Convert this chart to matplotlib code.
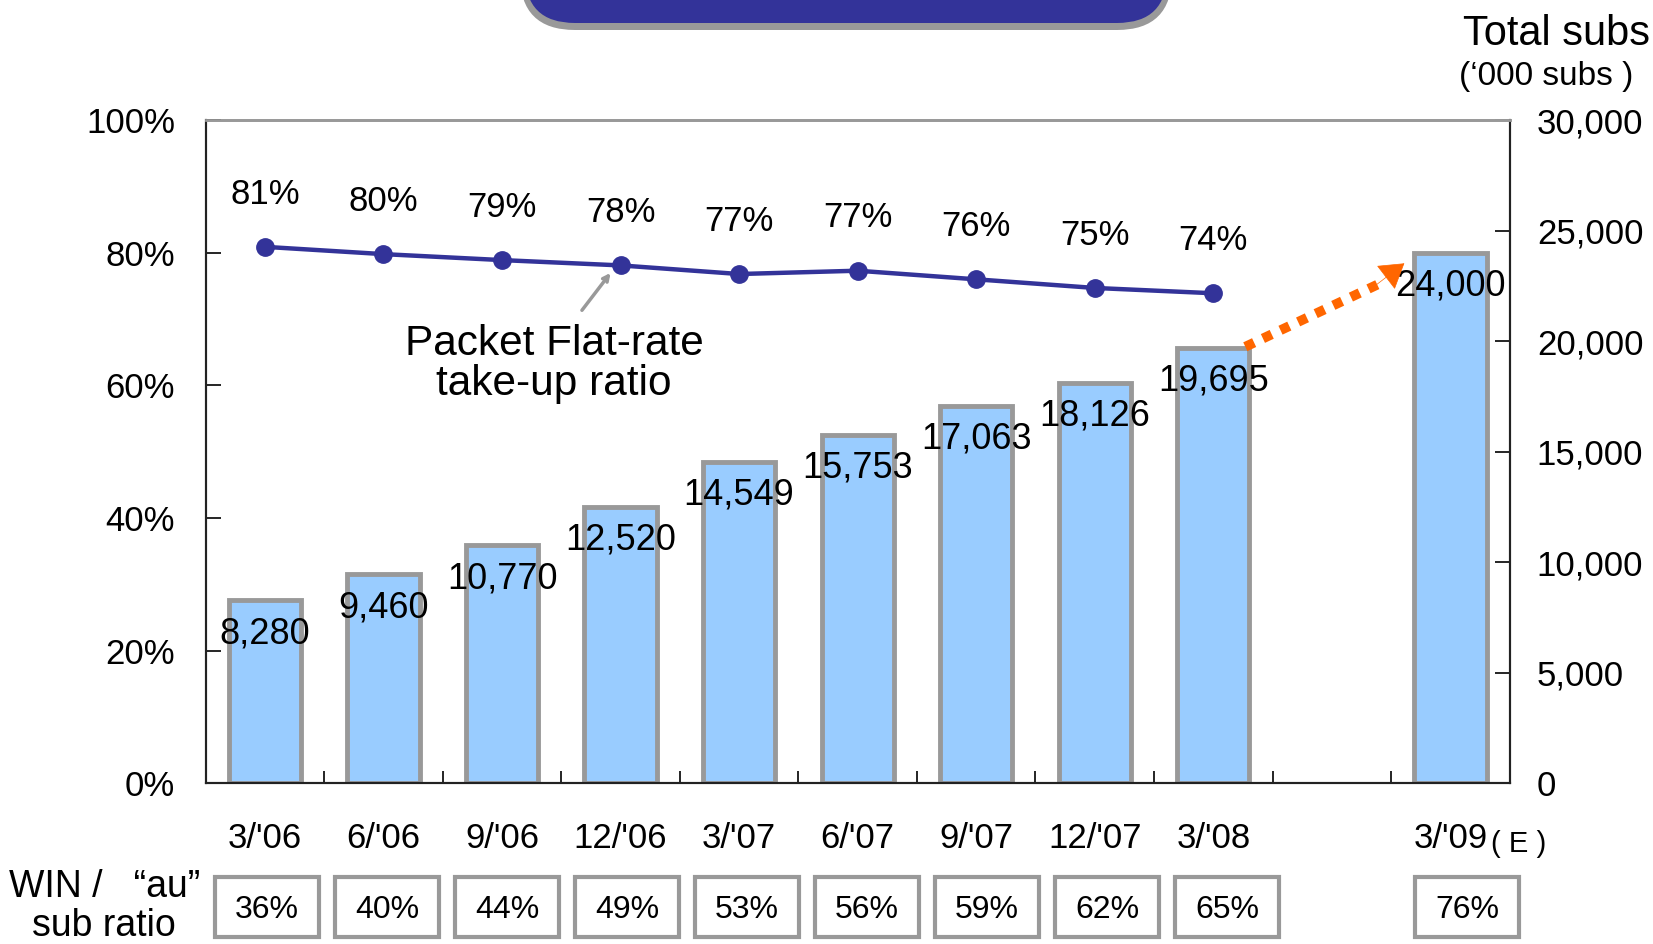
import matplotlib
matplotlib.use("Agg")
import matplotlib.pyplot as plt
from matplotlib.patches import FancyBboxPatch, Rectangle
from matplotlib.transforms import IdentityTransform, blended_transform_factory

plt.rcParams['font.family'] = ['Liberation Sans', 'DejaVu Sans']

# dados
periodos = ["3/'06", "6/'06", "9/'06", "12/'06", "3/'07", "6/'07", "9/'07", "12/'07", "3/'08", "3/'09"]
posicoes = [0, 1, 2, 3, 4, 5, 6, 7, 8, 10]
total_subs = [8280, 9460, 10770, 12520, 14549, 15753, 17063, 18126, 19695, 24000]
taxa_flat = [80.9, 79.8, 78.9, 78.1, 76.8, 77.3, 76.0, 74.7, 73.9]
win_ratio = [36, 40, 44, 49, 53, 56, 59, 62, 65, 76]

azul_linha = '#333399'
azul_barra = '#99CCFF'
cinza = '#999999'
laranja = '#FF6600'

fig = plt.figure(figsize=(16.53, 9.44), dpi=100)
ax = fig.add_axes([0.1244, 0.1702, 0.7889, 0.7025])
ax2 = ax.twinx()

# barras no eixo da direita
ax2.bar(posicoes, total_subs, width=0.61, color=azul_barra, edgecolor=cinza, linewidth=3.5, zorder=2)
ax2.set_ylim(0, 30000)
ax2.set_yticks(range(0, 30001, 5000))
ax2.set_yticklabels(['0'] + ['{:,}'.format(v) for v in range(5000, 30001, 5000)])
for x, v in zip(posicoes, total_subs):
    ax2.annotate('{:,}'.format(v), (x, v), xytext=(0, -24), textcoords='offset points',
                 ha='center', va='center', fontsize=26)

# linha da taxa
xs = posicoes[:len(taxa_flat)]
ax.plot(xs, taxa_flat, color=azul_linha, lw=3.2, marker='o', markersize=12.5, zorder=5)
for x, v in zip(xs, taxa_flat):
    ax.annotate('{:.0f}%'.format(v), (x, v), xytext=(0, 38), textcoords='offset points',
                ha='center', va='center', fontsize=25)
ax.set_zorder(ax2.get_zorder() + 1)
ax.patch.set_visible(False)

ax.set_xlim(-0.5, 10.5)
ax.set_ylim(0, 100)
ax.set_yticks(range(0, 101, 20))
ax.set_yticklabels(['{}%'.format(v) for v in range(0, 101, 20)])
ax.set_xticks(posicoes)
ax.set_xticklabels(periodos)
ax.set_xticks([i + 0.5 for i in range(10)], minor=True)
ax.tick_params(axis='x', which='major', length=0, pad=28, labelsize=25)
ax.tick_params(axis='x', which='minor', direction='in', length=9, width=1.2)
ax.tick_params(axis='y', direction='in', length=11, width=1.2, pad=22, labelsize=25)
ax2.tick_params(axis='y', direction='in', length=11, width=1.2, pad=19.5, labelsize=25)

for a in (ax, ax2):
    a.spines['top'].set_color(cinza)
    a.spines['top'].set_linewidth(2)
    for s in ('left', 'right', 'bottom'):
        a.spines[s].set_color('#222222')
        a.spines[s].set_linewidth(1.5)

# seta pontilhada laranja
ax2.plot([8.27, 9.4], [19750, 22600], color=laranja, lw=7, ls=(0, (1.0, 1.0)), solid_capstyle='butt', zorder=6)
ax2.annotate('', xy=(9.63, 23600), xytext=(9.35, 22450),
             arrowprops=dict(arrowstyle='-|>,head_length=1.6,head_width=1.0', color=laranja, lw=0.5), zorder=6)

# rótulo da linha
ax.text(2.44, 66.3, 'Packet Flat-rate', ha='center', va='center', fontsize=30.5)
ax.text(2.44, 60.2, 'take-up ratio', ha='center', va='center', fontsize=30.5)
ax.annotate('', xy=(2.93, 77.3), xytext=(2.66, 71.0),
            arrowprops=dict(arrowstyle='->', color=cinza, lw=2.5))

ax.text(10.34, -9.1, '( E )', ha='left', va='center', fontsize=21)

# caixas do WIN ratio (um pouco mais espaçadas que as barras)
trans = blended_transform_factory(ax.transData, fig.transFigure)
for x, v in zip(posicoes, win_ratio):
    cx = x * 1.012 + 0.02
    ax.add_patch(Rectangle((cx - 0.44, 0.0075), 0.88, 0.063, transform=trans, clip_on=False,
                           facecolor='white', edgecolor=cinza, linewidth=3))
    ax.text(cx, 0.036, '{}%'.format(v), transform=trans, ha='center', va='center', fontsize=23)

fig.text(0.063, 0.0605, 'WIN /   \u201cau\u201d', ha='center', va='center', fontsize=27)
fig.text(0.063, 0.019, 'sub ratio', ha='center', va='center', fontsize=27)

fig.text(0.998, 0.964, 'Total subs', ha='right', va='center', fontsize=30)
fig.text(0.988, 0.919, '(\u2018000 subs )', ha='right', va='center', fontsize=24)

# caixa azul do título (cortada no topo)
fig.patches.append(FancyBboxPatch((520, 914), 652, 120, boxstyle='round,pad=0,rounding_size=55',
                                  transform=IdentityTransform(), facecolor=cinza, edgecolor='none'))
fig.patches.append(FancyBboxPatch((525, 921), 642, 120, boxstyle='round,pad=0,rounding_size=50',
                                  transform=IdentityTransform(), facecolor=azul_linha, edgecolor='none'))

fig.savefig('out.png', dpi=100)
